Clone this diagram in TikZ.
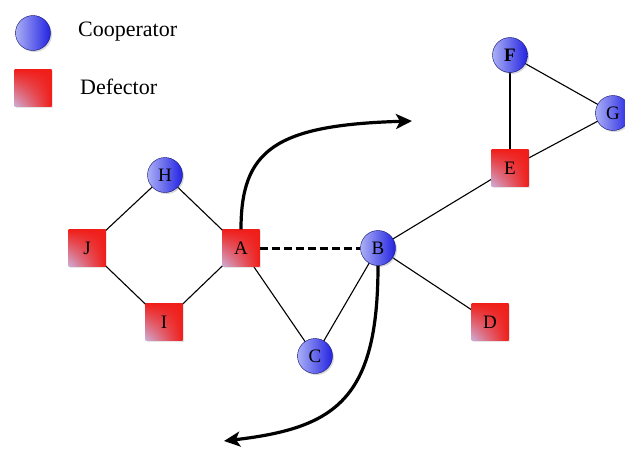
\documentclass[tikz,border=0pt]{standalone}
\usepackage{fontspec}
\setmainfont{Liberation Serif}
\usetikzlibrary{arrows.meta}
\usetikzlibrary{shadows}
\usetikzlibrary{shadings}
\definecolor{coopLight}{RGB}{170,175,245}
\definecolor{coopDark}{RGB}{35,35,225}
\definecolor{defRed}{RGB}{240,30,25}
\definecolor{defPale}{RGB}{205,175,215}
\tikzset{
  coop/.style = {circle, minimum size=35pt, inner sep=0pt, draw=coopDark!50!black, thin,
    left color=coopLight, right color=coopDark,
    drop shadow={opacity=0.3, shadow xshift=1.5pt, shadow yshift=-1.5pt},
    font=\fontsize{19}{21}\selectfont},
  defect/.style = {rectangle, minimum size=37pt, inner sep=0pt,
    upper left=defRed, upper right=defRed, lower right=defRed, lower left=defPale,
    drop shadow={opacity=0.2, shadow xshift=1.5pt, shadow yshift=-1.5pt},
    font=\fontsize{19}{21}\selectfont},
  keytext/.style = {anchor=west, inner sep=0pt, font=\fontsize{22}{25}\selectfont},
  link/.style = {color=#1, line width=1.1pt},
  tie/.style = {color=#1, line width=3pt, dash pattern=on 8pt off 4pt},
  jump/.style = {color=#1, line width=3.2pt, -{Stealth[length=16pt, width=15pt, inset=4pt]}}
}

\begin{document}
\begin{tikzpicture}[x=1pt, y=-1pt]
    \useasboundingbox (0,0) rectangle (625,450);

    %==== Legend ====
    \node[coop] (coopKey) at (33,33) {};
    \node[keytext] (coopText) at (78,32) {Cooperator};
    \node[defect] (defKey) at (33,88) {};
    \node[keytext] (defText) at (80,87) {Defector};

    %==== Network ====
    % Edges first, nodes on top
    \coordinate (pH) at (165,175);
    \coordinate (pJ) at (87,248);
    \coordinate (pI) at (164,322);
    \coordinate (pA) at (241,248);
    \coordinate (pB) at (378,248);
    \coordinate (pC) at (315,356);
    \coordinate (pD) at (490,322);
    \coordinate (pE) at (510,168);
    \coordinate (pF) at (510,55);
    \coordinate (pG) at (613,113);

    % Links
    \draw[link={black}] (pH) -- (pJ);
    \draw[link={black}] (pH) -- (pA);
    \draw[link={black}] (pJ) -- (pI);
    \draw[link={black}] (pI) -- (pA);
    \draw[link={black}] (pA) -- (pC);
    \draw[link={black}] (pC) -- (pB);
    \draw[link={black}] (pB) -- (pE);
    \draw[link={black}] (pB) -- (pD);
    \draw[link={black}] (pE) -- (pF);
    \draw[link={black}] (pF) -- (pG);
    \draw[link={black}] (pG) -- (pE);

    % Players
    \node[coop] (H) at (pH) {H};
    \node[defect] (J) at (pJ) {J};
    \node[defect] (I) at (pI) {I};
    \node[defect] (A) at (pA) {A};
    \node[coop] (B) at (pB) {B};
    \node[coop] (C) at (pC) {C};
    \node[defect] (D) at (pD) {D};
    \node[defect] (E) at (pE) {E};
    \node[coop] (F) at (pF) {\textbf{F}};
    \node[coop] (G) at (pG) {G};

    % Broken tie
    \draw[tie={black}] (A) -- (B);

    % Moves
    \coordinate (tipA) at (412,121);
    \coordinate (tipB) at (224,441);
    \draw[jump={black}] (A.north) .. controls (241,150) and (275,125) .. (tipA);
    \draw[jump={black}] (B.south) .. controls (378,400) and (335,428) .. (tipB);

\end{tikzpicture}
\end{document}
